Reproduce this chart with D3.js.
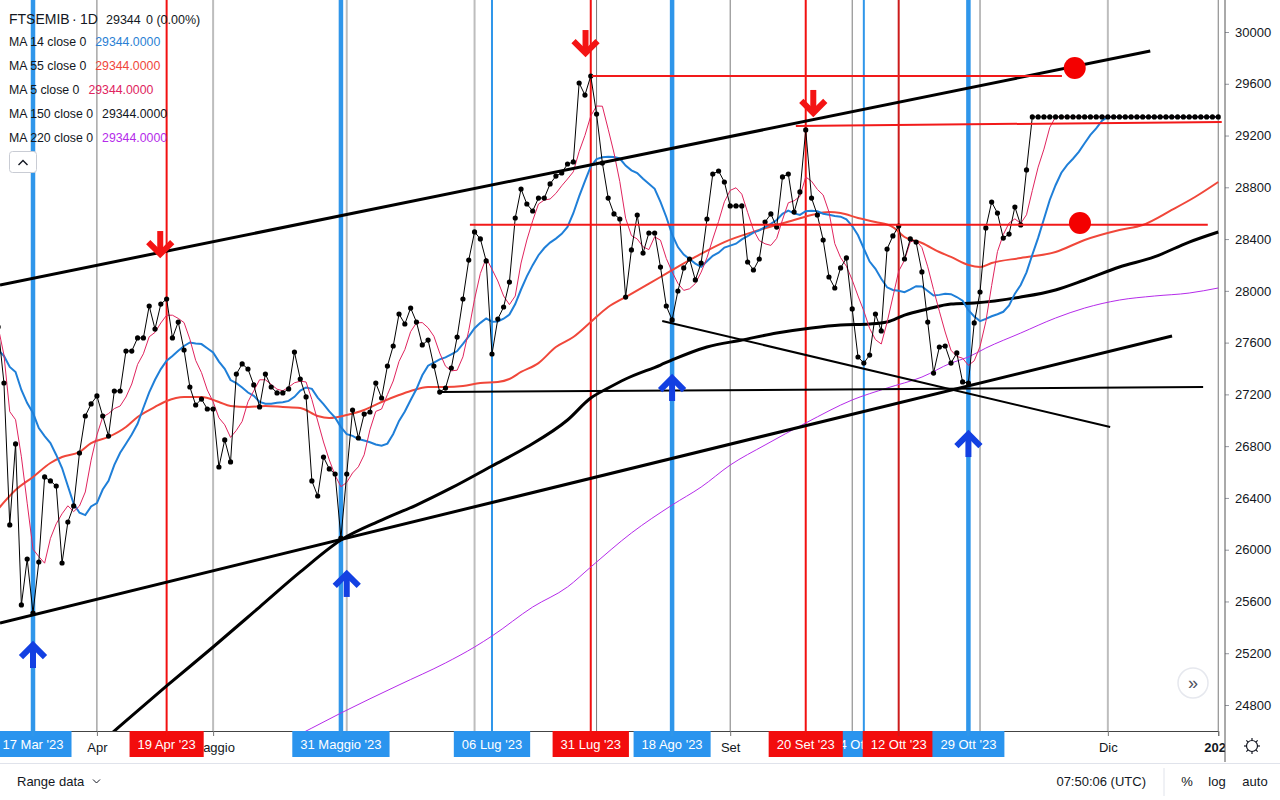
<!DOCTYPE html>
<html>
<head>
<meta charset="utf-8">
<style>
  body { margin: 0; background: #fff; }
  svg { display: block; }
</style>
</head>
<body>
<svg id="chart" width="1280" height="800"></svg>
<script src="https://cdn.jsdelivr.net/npm/d3@7"></script>
<script>
// FTSEMIB daily closes, one per weekday starting 9 Mar 2023
const closes = [
  27721,27288,26191,26817,25573,25928,25511,25905,26562,26531,
  26492,25897,26214,26338,26747,27033,27126,27188,27033,26878,
  27226,27226,27535,27535,27636,27636,27883,27705,27898,27937,
  27636,27759,27543,27257,27118,27164,27087,27087,26639,26848,
  26678,27357,27435,27396,27273,27103,27357,27257,27211,27211,
  27242,27527,27319,27180,26531,26415,26716,26624,26585,26090,
  26585,27079,26863,27048,27064,27288,27172,27419,27574,27821,
  27744,27867,27759,27582,27620,27419,27218,27249,27404,27643,
  27937,28238,28455,28401,28231,27512,27782,27875,28068,28563,
  28787,28671,28617,28717,28717,28826,28887,28911,28980,28996,
  29606,29513,29660,29366,28988,28717,28594,28555,27952,28316,
  28586,28292,28447,28447,28184,27883,27775,27999,28177,28246,
  28084,28215,28555,28903,28926,28841,28656,28656,28656,28223,
  28161,28246,28532,28594,28493,28880,28903,28609,28764,29243,
  28717,28586,28393,28107,28022,28177,28254,27860,27489,27442,
  27504,27821,27690,28323,28424,28501,28246,28401,28377,28146,
  27759,27365,27566,27574,27442,27520,27296,27288,27752,27991,
  28486,28686,28601,28408,28439,28648,28509,28934,
  29344,29344,29344,29344,29344,29344,29344,29344,29344,29344,
  29344,29344,29344,29344,29344,29344,29344,29344,29344,29344,
  29344,29344,29344,29344,29344,29344,29344,29344,29344,29344,
  29344,29344,29344
];

// MA14 for the first bars (window reaches before the visible data)
const ma14Lead = [27543,27497,27412,27373,27234,27133,27056,26940,26878,26824,26732,26631,26492];

// longer moving averages (bar index, value)
const ma55At = [0,3,6,9,11,14,16,19,22,24,27,29,32,35,38,40,43,46,49,52,55,57,60,63,66,69,71,74,77,80,83,86,88,90,93,96,99,102,105,108,114,120,125,131,137,140,143,145,148,151,154,156,159,162,164,167,169,171,176,182,187,193,197,202,206,210];
const ma55 = [26314,26461,26562,26670,26716,26755,26824,26871,26948,27025,27103,27149,27180,27180,27141,27110,27103,27110,27103,27095,27033,27018,27041,27079,27141,27195,27226,27257,27257,27265,27288,27296,27319,27373,27442,27566,27643,27759,27875,27952,28107,28262,28377,28470,28547,28586,28609,28601,28563,28532,28493,28416,28370,28300,28262,28200,28184,28215,28254,28300,28393,28470,28509,28625,28725,28841];

const ma150At = [14,21,29,37,45,52,59,66,72,78,85,91,98,102,105,108,114,116,122,128,134,140,145,150,153,156,160,164,168,176,182,187,193,199,205,210];
const ma150 = [24367,24638,24947,25248,25557,25828,26075,26229,26345,26477,26647,26793,27002,27172,27249,27319,27427,27466,27566,27620,27674,27713,27736,27744,27759,27813,27860,27898,27906,27952,28007,28084,28184,28262,28377,28455];

const ma220At = [48,54,59,69,77,82,85,92,98,102,109,116,121,126,132,139,147,153,159,164,167,170,176,182,187,193,199,205,210];
const ma220 = [24483,24622,24738,24955,25125,25248,25333,25557,25712,25866,26129,26345,26484,26654,26809,26979,27157,27249,27334,27442,27489,27558,27674,27790,27867,27929,27960,27983,28022];

const priceTicks = [24800,25200,25600,26000,26400,26800,27200,27600,28000,28400,28800,29200,29600,30000];

// vertical date markers
const eventDates  = ["2023-03-17","2023-04-19","2023-05-31","2023-07-06","2023-07-31","2023-08-18","2023-09-20","2023-10-04","2023-10-12","2023-10-29"];
const eventLabels = ["17 Mar '23","19 Apr '23","31 Maggio '23","06 Lug '23","31 Lug '23","18 Ago '23","20 Set '23","4 Ott '23","12 Ott '23","29 Ott '23"];
const eventKinds  = ["blue","red","blue","blueThin","red","blue","red","blueThin","darkRed","blue"];

// drawings: [bar, price] pairs
const blackLines = [
  [[0.32, 28045], [198.3, 29853]],
  [[0.32, 25434], [202.05, 27651]],
  [[76.05, 27218], [207.4, 27257]],
  [[114.3, 27767], [191.4, 26948]]
];
const redLines = [
  [[102.2, 29660], [183.1, 29660]],
  [[137.3, 29274], [210.6, 29305]],
  [[81.2, 28510], [208.2, 28510]]
];
const redDots = [[185.3, 29722], [186.2, 28524]];
const downArrows = [[27.9, 28269], [101.1, 29822], [140.3, 29359]];
const upArrows = [[6, 25279], [60, 25828], [116, 27342], [167, 26909]];

const monthNames = ["Gen","Feb","Mar","Apr","Maggio","Giu","Lug","Ago","Set","Ott","Nov","Dic"];
const holidays = ["2023-12-25","2023-12-26"];

const FONT = "'Liberation Sans', Arial, sans-serif";
const plotRight = 1225, plotBottom = 731;

const svg = d3.select("#chart").attr("font-family", FONT);

var x = d3.scaleLinear().domain([0, 210]).range([-1.86, 1218.24]);
var y = d3.scaleLinear().domain([24800, 30000]).range([705, 32]);

const fmtDay = d3.timeFormat("%Y-%m-%d");
const parseDay = d3.timeParse("%Y-%m-%d");
const calendar = d3.timeDay.range(new Date(2023, 2, 9), new Date(2024, 0, 10))
  .filter(d => d.getDay() !== 0 && d.getDay() !== 6 && !holidays.includes(fmtDay(d)));
const barOf = s => d3.bisectLeft(calendar, parseDay(s));

const defs = svg.append("defs");
defs.append("clipPath").attr("id", "plot")
  .append("rect").attr("width", plotRight).attr("height", plotBottom);
defs.append("clipPath").attr("id", "timeaxis")
  .append("rect").attr("width", plotRight).attr("height", 800);

const plot = svg.append("g").attr("clip-path", "url(#plot)");

// month grid
var monthBars = [];
for (let i = 1; i <= 212 && i < calendar.length; i++) {
  if (calendar[i].getMonth() !== calendar[i-1].getMonth()) monthBars.push(i);
}
const lightMonths = [4, 5, 6, 11];
plot.selectAll(".grid").data(monthBars).enter().append("line")
  .attr("x1", d => x(d)).attr("x2", d => x(d))
  .attr("y1", 0).attr("y2", plotBottom)
  .attr("stroke", d => lightMonths.includes(calendar[d].getMonth()) ? "#bdbdbd" : "#7a7a7a")
  .attr("stroke-width", d => lightMonths.includes(calendar[d].getMonth()) ? 2 : 1);

const kindColor = { blue: "#2f96ea", blueThin: "#2f96ea", red: "#f21010", darkRed: "#cc1b1b" };
const kindWidth = { blue: 4.5, blueThin: 2, red: 2, darkRed: 2 };
const tagColor = { blue: "#2a94ee", blueThin: "#2a94ee", red: "#f20d0d", darkRed: "#f20d0d" };

const events = eventDates.map((d, i) => ({ bar: barOf(d), label: eventLabels[i], kind: eventKinds[i] }));

plot.selectAll(".evt").data(events).enter().append("line")
  .attr("x1", d => x(d.bar)).attr("x2", d => x(d.bar))
  .attr("y1", 0).attr("y2", plotBottom)
  .attr("stroke", d => kindColor[d.kind])
  .attr("stroke-width", d => kindWidth[d.kind]);

// series
const line = d3.line().x(d => x(d.i)).y(d => y(d.v));
const smooth = d3.line().curve(d3.curveMonotoneX).x(d => x(d.i)).y(d => y(d.v));

const pts = (at, vals) => at.map((b, k) => ({ i: b, v: vals[k] }));
const closeData = closes.map((v, i) => ({ i, v }));
const ma5Data = closes.map((v, i) => ({ i, v: d3.mean(closes.slice(Math.max(0, i - 4), i + 1)) }));
const ma14Data = closes.map((v, i) => ({ i, v: i < 13 ? ma14Lead[i] : d3.mean(closes.slice(i - 13, i + 1)) }));

plot.append("path").datum(pts(ma220At, ma220)).attr("d", smooth)
  .attr("fill", "none").attr("stroke", "#b52bea").attr("stroke-width", 1);
plot.append("path").datum(pts(ma150At, ma150)).attr("d", smooth)
  .attr("fill", "none").attr("stroke", "#000").attr("stroke-width", 3);
plot.append("path").datum(pts(ma55At, ma55)).attr("d", smooth)
  .attr("fill", "none").attr("stroke", "#f0473a").attr("stroke-width", 2);
plot.append("path").datum(ma14Data).attr("d", line)
  .attr("fill", "none").attr("stroke", "#1f7fd8").attr("stroke-width", 2);
plot.append("path").datum(ma5Data).attr("d", line)
  .attr("fill", "none").attr("stroke", "#e0245e").attr("stroke-width", 1);
plot.append("path").datum(closeData).attr("d", line)
  .attr("fill", "none").attr("stroke", "#000").attr("stroke-width", 1);
plot.selectAll(".dot").data(closeData).enter().append("circle")
  .attr("cx", d => x(d.i)).attr("cy", d => y(d.v)).attr("r", 2.6).attr("fill", "#000");

// drawings
const seg = d3.line().x(d => x(d[0])).y(d => y(d[1]));
blackLines.forEach((l, k) => {
  plot.append("path").attr("d", seg(l)).attr("stroke", "#000")
    .attr("stroke-width", k < 2 ? 3 : 2).attr("fill", "none");
});
redLines.forEach(l => {
  plot.append("path").attr("d", seg(l)).attr("stroke", "#f21a1a")
    .attr("stroke-width", 2).attr("fill", "none");
});
plot.selectAll(".rdot").data(redDots).enter().append("circle")
  .attr("cx", d => x(d[0])).attr("cy", d => y(d[1])).attr("r", 11).attr("fill", "#f40000");

function arrow(d, dir, color) {
  const ax = x(d[0]), ay = y(d[1]);
  const g = plot.append("g").attr("stroke", color).attr("fill", "none").attr("stroke-width", 6);
  g.append("line").attr("x1", ax).attr("x2", ax).attr("y1", ay + dir * 3).attr("y2", ay + dir * 25);
  g.append("path").attr("d", `M${ax - 12},${ay + dir * 14}L${ax},${ay + dir * 2}L${ax + 12},${ay + dir * 14}`);
}
downArrows.forEach(d => arrow(d, -1, "#f41414"));
upArrows.forEach(d => arrow(d, 1, "#1340e2"));

// legend
const last = closes[closes.length - 1];
const lg = svg.append("g").attr("fill", "#131722");
lg.append("text").attr("x", 9).attr("y", 24).attr("font-size", 14).text("FTSEMIB");
lg.append("text").attr("x", 72).attr("y", 24).attr("font-size", 14).text("·");
lg.append("text").attr("x", 80).attr("y", 24).attr("font-size", 14).text("1D");
lg.append("text").attr("x", 106).attr("y", 24).attr("font-size", 12.5).text(last);
lg.append("text").attr("x", 146).attr("y", 24).attr("font-size", 12.5).text("0 (0.00%)");

const rows = [["MA 14 close 0", "#2a7fd4"], ["MA 55 close 0", "#f0473a"], ["MA 5 close 0", "#e0245e"],
              ["MA 150 close 0", "#131722"], ["MA 220 close 0", "#b52bea"]];
rows.forEach((r, k) => {
  const t = lg.append("text").attr("x", 9).attr("y", 46 + k * 24).attr("font-size", 12.3).text(r[0]);
  const w = t.node().getComputedTextLength();
  lg.append("text").attr("x", 9 + w + 9).attr("y", 46 + k * 24).attr("font-size", 12.3)
    .attr("fill", r[1]).text(d3.format(".4f")(last));
});
lg.append("rect").attr("x", 9.5).attr("y", 151.5).attr("width", 27).attr("height", 21).attr("rx", 3)
  .attr("fill", "#fff").attr("stroke", "#c9ccd4");
lg.append("path").attr("d", "M18.5,165L23,160.5L27.5,165").attr("fill", "none").attr("stroke", "#131722").attr("stroke-width", 1.4);

// price axis
svg.append("rect").attr("x", plotRight).attr("y", 0).attr("width", 1280 - plotRight).attr("height", 762).attr("fill", "#fff");
svg.append("g").attr("transform", `translate(${plotRight},0)`)
  .call(d3.axisRight(y).tickValues(priceTicks).tickSize(4).tickPadding(6).tickFormat(d3.format("d")))
  .call(g => g.select(".domain").remove())
  .call(g => g.selectAll("line").attr("stroke", "#9598a1"))
  .call(g => g.selectAll("text").attr("font-size", 13).attr("fill", "#131722").attr("font-family", FONT));
svg.append("line").attr("x1", plotRight).attr("x2", plotRight).attr("y1", 0).attr("y2", 762).attr("stroke", "#555");

// time axis: tags first measured, month labels under a tag are hidden like the platform does
const ta = svg.append("g").attr("clip-path", "url(#timeaxis)");
const order = events.slice().sort((a, b) => (a.kind === "blueThin" ? 0 : 1) - (b.kind === "blueThin" ? 0 : 1));
const tagBoxes = [];
const tagLayer = svg.append("g").attr("clip-path", "url(#timeaxis)");
order.forEach(d => {
  const cx = x(d.bar);
  const tag = tagLayer.append("g");
  const t = tag.append("text").attr("x", cx).attr("y", 749).attr("text-anchor", "middle")
    .attr("font-size", 13).attr("fill", "#fff").text(d.label);
  const w = t.node().getComputedTextLength() + 16;
  tagBoxes.push([cx - w / 2, cx + w / 2]);
  tag.insert("rect", "text").attr("x", cx - w / 2).attr("y", plotBottom).attr("width", w).attr("height", 26)
    .attr("fill", tagColor[d.kind]);
  tag.insert("line", "text").attr("x1", cx).attr("x2", cx).attr("y1", plotBottom).attr("y2", plotBottom + 5)
    .attr("stroke", kindColor[d.kind]).attr("stroke-width", d.kind === "blue" ? 3 : 1.5);
});
// the small "4 Ott" tag is mostly covered by its neighbours: only show its free part
const covered = order.filter(d => d.kind === "blueThin");
covered.forEach(d => {
  const cx = x(d.bar);
  const others = tagBoxes.filter(b => !(b[0] <= cx && b[1] >= cx));
  const leftEdge = d3.max(others.filter(b => b[1] <= cx + 2), b => b[1]);
  const rightEdge = d3.min(others.filter(b => b[0] >= cx - 2), b => b[0]);
  if (leftEdge != null && rightEdge != null && rightEdge - leftEdge < 60) {
    const id = "tagclip" + d.bar;
    defs.append("clipPath").attr("id", id).append("rect")
      .attr("x", leftEdge).attr("y", plotBottom).attr("width", rightEdge - leftEdge).attr("height", 30);
    tagLayer.selectAll("g").filter(function() {
      return d3.select(this).select("text").text() === d.label;
    }).attr("clip-path", `url(#${id})`);
  }
});

const visibleMonths = monthBars.filter(b => !tagBoxes.some(t => x(b) > t[0] && x(b) < t[1]));
ta.append("g").attr("transform", `translate(0,${plotBottom})`)
  .call(d3.axisBottom(x).tickValues(monthBars).tickSize(5).tickPadding(7)
    .tickFormat(d => visibleMonths.includes(d)
      ? (calendar[d].getMonth() === 0 ? calendar[d].getFullYear() : monthNames[calendar[d].getMonth()])
      : ""))
  .call(g => g.select(".domain").attr("stroke", "#444"))
  .call(g => g.selectAll("line").attr("stroke", "#777"))
  .call(g => g.selectAll("text").attr("font-size", 13).attr("fill", "#131722").attr("font-family", FONT)
    .attr("font-weight", d => calendar[d].getMonth() === 0 ? "bold" : "normal"));
ta.lower();
svg.select("g").lower();

// gear icon in the axis corner
const gear = svg.append("g").attr("transform", "translate(1252,746)").attr("stroke", "#131722").attr("fill", "none").attr("stroke-width", 1.2);
gear.append("circle").attr("r", 5.5);
d3.range(8).forEach(k => {
  const a = k * Math.PI / 4;
  gear.append("line").attr("x1", Math.cos(a) * 5.5).attr("y1", Math.sin(a) * 5.5)
    .attr("x2", Math.cos(a) * 8).attr("y2", Math.sin(a) * 8);
});

// scroll button
svg.append("circle").attr("cx", 1193).attr("cy", 683).attr("r", 15).attr("fill", "#fff")
  .attr("stroke", "#e6e8ee").attr("stroke-width", 1.5);
svg.append("text").attr("x", 1193).attr("y", 689).attr("text-anchor", "middle").attr("font-size", 18)
  .attr("fill", "#50535e").text("»");

// bottom toolbar
svg.append("line").attr("x1", 0).attr("x2", 1280).attr("y1", 763.5).attr("y2", 763.5).attr("stroke", "#e0e3eb");
svg.append("text").attr("x", 17).attr("y", 786).attr("font-size", 13).attr("fill", "#131722").text("Range data");
svg.append("path").attr("d", "M93,779.5L96.5,783L100,779.5").attr("fill", "none").attr("stroke", "#131722");
svg.append("text").attr("x", 1146).attr("y", 786).attr("text-anchor", "end").attr("font-size", 13).attr("fill", "#131722").text("07:50:06 (UTC)");
svg.append("line").attr("x1", 1164).attr("x2", 1164).attr("y1", 768).attr("y2", 796).attr("stroke", "#e0e3eb");
[["%", 1187], ["log", 1217], ["auto", 1255]].forEach(d => {
  svg.append("text").attr("x", d[1]).attr("y", 786).attr("text-anchor", "middle").attr("font-size", 13)
    .attr("fill", "#131722").text(d[0]);
});
</script>
</body>
</html>
